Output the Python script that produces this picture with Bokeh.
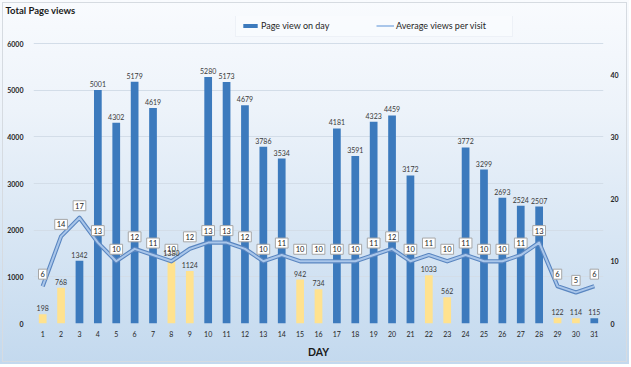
from bokeh.plotting import figure
from bokeh.models import (ColumnDataSource, Range1d, LinearAxis, FixedTicker, LabelSet,
                          Legend, LegendItem)
from bokeh.embed import file_html
from bokeh.resources import INLINE
from bokeh.core.properties import value

# ---------------- data ----------------
days = list(range(1, 32))
page_views = [198, 768, 1342, 5001, 4302, 5179, 4619, 1380, 1124, 5280, 5173, 4679, 3786, 3534,
              942, 734, 4181, 3591, 4323, 4459, 3172, 1033, 562, 3772, 3299, 2693, 2524, 2507,
              122, 114, 115]
avg_views = [6, 14, 17, 13, 10, 12, 11, 10, 12, 13, 13, 12, 10, 11, 10, 10, 10, 10, 11, 12,
             10, 11, 10, 11, 10, 10, 11, 13, 6, 5, 6]
weekend_days = [1, 2, 8, 9, 15, 16, 22, 23, 29, 30]
left_ticks = [0, 1000, 2000, 3000, 4000, 5000, 6000]
right_ticks = [0, 10, 20, 30, 40]
left_max, right_max = 6000, 45          # axis values at the top gridline

BLUE = "#3c7abd"
YELLOW = "#ffe28f"
FONT = "Lato"

# layout (pixels): frame top/bottom, and where the top gridline sits
W, H = 629, 364
FRAME_TOP, FRAME_BOTTOM, GRID_TOP = 16, 323, 43
stretch = (FRAME_BOTTOM - FRAME_TOP) / (FRAME_BOTTOM - GRID_TOP)

colors = [YELLOW if d in weekend_days else BLUE for d in days]
src = ColumnDataSource(dict(day=days, views=page_views, avg=avg_views, color=colors,
                            vlab=[str(v) for v in page_views],
                            alab=[str(v) for v in avg_views]))

p = figure(width=W, height=H, output_backend="svg", toolbar_location=None,
           x_range=Range1d(0.5, 31.5), y_range=Range1d(0, left_max * stretch),
           min_border_left=33, min_border_right=26, min_border_top=FRAME_TOP,
           min_border_bottom=H - FRAME_BOTTOM)
p.extra_y_ranges = {"avg": Range1d(0, right_max * stretch)}

p.background_fill_color = None
p.border_fill_color = None
p.outline_line_color = None
p.styles = {"background": "linear-gradient(to bottom, #f9fbfe 0%, #edf3fa 30%, #c3d9ee 100%)",
            "outline": "1px solid #d6dbe1", "outline-offset": "-3px"}

# grid
p.xgrid.grid_line_color = None
p.ygrid.grid_line_color = "#d3dde8"
p.ygrid.ticker = FixedTicker(ticks=left_ticks)

# bars
bars = p.vbar(x="day", top="views", width=0.42, source=src, fill_color="color",
              line_color=None)

# bar labels
p.add_layout(LabelSet(x="day", y="views", text="vlab", source=src, text_align="center",
                      text_baseline="bottom", y_offset=3, text_font=value(FONT),
                      text_font_size="7px", text_color="#3a3a3a"))

# line (outer dark + inner light)
p.line(x="day", y="avg", source=src, y_range_name="avg", line_color="#5a86c0",
       line_width=4.2, line_join="round")
inner = p.line(x="day", y="avg", source=src, y_range_name="avg", line_color="#a9c6ea",
               line_width=2.0, line_join="round")

# line labels (boxed)
p.text(x="day", y="avg", text="alab", source=src, y_range_name="avg",
       text_align="center", text_baseline="middle", y_offset=-12,
       text_font=value(FONT), text_font_size="7.5px", text_color="#262626",
       background_fill_color="white", border_line_color="#a6a6a6",
       border_line_width=1, padding=2)

# axes
p.xaxis.ticker = FixedTicker(ticks=days)
p.xaxis.axis_label = "DAY"
p.xaxis.axis_label_text_font = FONT
p.xaxis.axis_label_text_font_style = "bold"
p.xaxis.axis_label_text_font_size = "10.5px"
p.xaxis.axis_label_text_color = "#1a1a1a"
p.xaxis.axis_label_standoff = 6
p.xaxis.major_label_standoff = 7

p.yaxis.ticker = FixedTicker(ticks=left_ticks)
p.yaxis.major_label_standoff = 10

ax2 = LinearAxis(y_range_name="avg", ticker=FixedTicker(ticks=right_ticks))
ax2.major_label_standoff = 7
p.add_layout(ax2, "right")

for ax in [p.xaxis[0], p.yaxis[0], ax2]:
    ax.axis_line_color = None
    ax.major_tick_line_color = None
    ax.minor_tick_line_color = None
    ax.major_tick_out = 0
    ax.major_tick_in = 0
    ax.minor_tick_out = 0
    ax.major_label_text_font = FONT
    ax.major_label_text_font_size = "7px"
    ax.major_label_text_color = "#262626"
for ax in [p.yaxis[0], ax2]:
    ax.major_label_text_font_style = "bold"

# title
p.title.text = "Total Page views"
p.title.align = "left"
p.title.offset = -28
p.title.standoff = 1
p.title.text_font = FONT
p.title.text_font_style = "bold"
p.title.text_font_size = "9.5px"
p.title.text_color = "#1a1a1a"

# legend (inside the frame, top area)
legend = Legend(items=[LegendItem(label="Page view on day", renderers=[bars], index=2),
                       LegendItem(label="Average views per visit", renderers=[inner])],
                orientation="horizontal", location=(202, 286), margin=0,
                glyph_width=18, glyph_height=5, label_height=10, label_width=111,
                label_standoff=2, spacing=4, padding=5,
                label_text_font=FONT, label_text_font_size="9px", label_text_color="#262626",
                background_fill_color="#f8fbfe", background_fill_alpha=0.9,
                border_line_color="#e2e8ef", border_line_width=1)
p.add_layout(legend, "center")

open("out.html", "w").write(file_html(p, INLINE))
